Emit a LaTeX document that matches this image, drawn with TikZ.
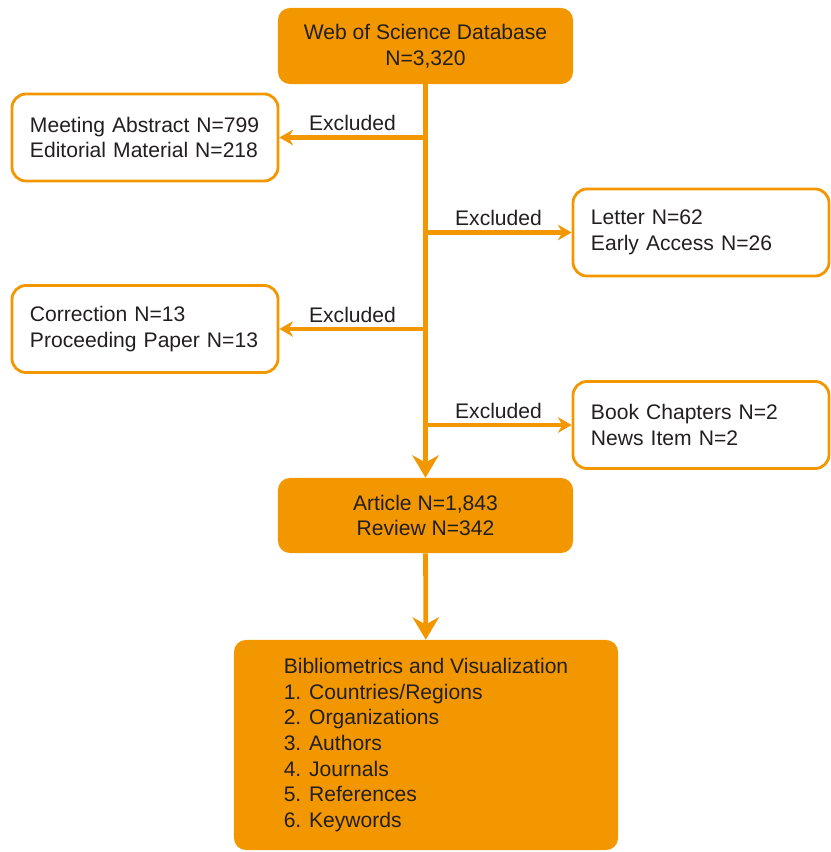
\documentclass[tikz,border=0pt]{standalone}
\usepackage{fontspec}
\setmainfont{Liberation Sans}
\usetikzlibrary{arrows.meta}
\definecolor{tangerine}{RGB}{243,151,0}
\definecolor{ink}{RGB}{35,31,32}
\tikzset{
  solid box/.style={fill=tangerine,text=ink,rounded corners=3mm,align=center,inner sep=0pt},
  out box/.style={draw=tangerine,line width=2pt,fill=white,text=ink,rounded corners=3.5mm,
    text width=#1,align=left,inner xsep=4.5mm,inner ysep=0pt,minimum height=21.75mm},
  out box/.default=55mm,
  flow/.style={draw=tangerine,line width=3.2pt,-{Stealth[length=3.4mm,width=3.9mm,inset=1.1mm]}},
  trunk/.style={draw=tangerine,line width=3.4pt,-{Stealth[length=5.6mm,width=6.6mm,inset=1.8mm]}},
  tag/.style={text=ink,inner sep=3pt},
}
\begin{document}
\begin{tikzpicture}[x=0.025cm,y=-0.025cm,font=\fontsize{15}{18.2}\selectfont]
  \useasboundingbox (0,0) rectangle (830,852);
  \node[solid box,minimum width=73.75mm,minimum height=19mm] (wos) at (425.5,46) {Web of Science Database\\N=3,320};
  \foreach \t/\x/\y/\w [count=\i] in {
      {Meeting Abstract N=799\\Editorial Material N=218}/145/137.5/57.5mm,
      {Letter N=62\\Early Access N=26}/701/232.5/55mm,
      {Correction N=13\\Proceeding Paper N=13}/145/329/57.5mm,
      {Book Chapters N=2\\News Item N=2}/701/425/55mm}
    \node[out box=\w] (ex\i) at (\x,\y) {\t};
  \node[solid box,minimum width=73.75mm,minimum height=18.75mm] (art) at (425.5,515.5) {Article N=1,843\\Review N=342};
  \node[solid box,align=left,minimum width=96mm,minimum height=52.5mm] (biblio) at (426,745)
    {Bibliometrics and Visualization\\1. Countries/Regions\\2. Organizations\\3. Authors\\4. Journals\\5. References\\6. Keywords};
  % exclusions branch off the trunk
  \foreach \i in {1,...,4}
    \draw[flow] (wos.south |- ex\i) -- (ex\i) node[midway,above,tag] {Excluded};
  \draw[trunk] (wos) -- (art);
  \draw[trunk] (art) -- (biblio);
\end{tikzpicture}
\end{document}
